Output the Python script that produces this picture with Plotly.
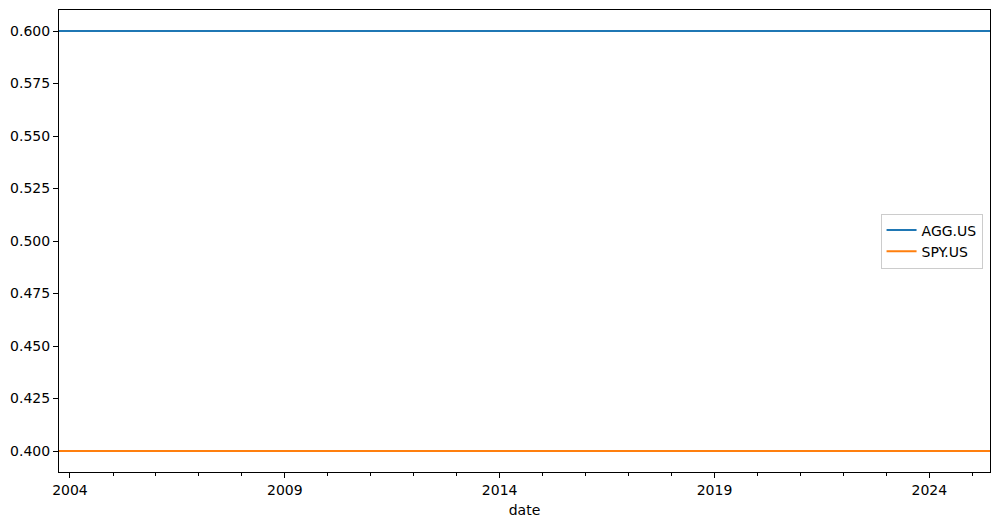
import pandas as pd
import plotly.graph_objects as go

# Monthly observations (month-end), Sep 2003 - May 2025
dates = pd.date_range("2003-09-30", "2025-05-31", freq="ME")
n = len(dates)
agg_weight = [0.6] * n
spy_weight = [0.4] * n
series_names = ["AGG.US", "SPY.US"]
colors = ["#1f77b4", "#ff7f0e"]

year_ticks = ["2004-01-01", "2009-01-01", "2014-01-01", "2019-01-01", "2024-01-01"]
year_labels = ["2004", "2009", "2014", "2019", "2024"]
y_ticks = [0.400, 0.425, 0.450, 0.475, 0.500, 0.525, 0.550, 0.575, 0.600]

fig = go.Figure()
for name, vals, c in zip(series_names, [agg_weight, spy_weight], colors):
    fig.add_trace(go.Scatter(x=dates, y=vals, mode="lines", name=name,
                             line=dict(color=c, width=2)))

font = dict(family="DejaVu Sans", size=14, color="black")
fig.update_layout(
    width=999, height=525,
    margin=dict(l=59, r=9, t=10, b=53),
    paper_bgcolor="white", plot_bgcolor="white",
    font=font,
    showlegend=True,
    legend=dict(x=0.992, y=0.5, xanchor="right", yanchor="middle",
                bgcolor="rgba(255,255,255,0.8)", bordercolor="#cccccc", borderwidth=1,
                font=dict(family="DejaVu Sans", size=14, color="black"), tracegroupgap=0),
    xaxis=dict(
        title=dict(text="date", standoff=8, font=font),
        range=[dates[0], dates[-1]],
        tickvals=year_ticks, ticktext=year_labels,
        ticks="outside", ticklen=5, tickwidth=1, tickcolor="black",
        minor=dict(ticks="outside", ticklen=3, tickcolor="black", dtick="M12", tick0="2004-01-01"),
        showline=True, linecolor="black", linewidth=1, mirror=True,
        showgrid=False, zeroline=False, automargin=False,
    ),
    yaxis=dict(
        range=[0.39, 0.61],
        tickvals=y_ticks, tickformat=".3f",
        ticks="outside", ticklen=5, tickwidth=1, tickcolor="black",
        showline=True, linecolor="black", linewidth=1, mirror=True,
        showgrid=False, zeroline=False, automargin=False,
    ),
)
fig.write_html("out.html", config={"displayModeBar": False},
               post_script="document.body.style.margin='0';")
